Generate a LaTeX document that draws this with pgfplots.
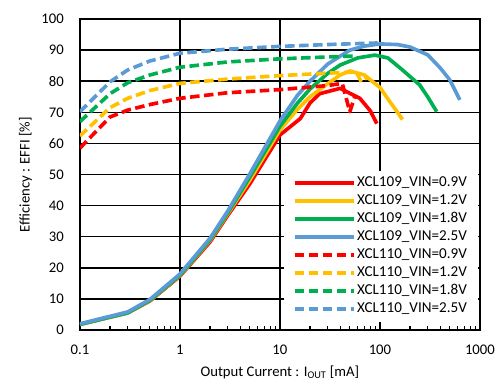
\documentclass[border=0pt]{standalone}
\usepackage{fontspec}
\setmainfont{Carlito}
\usepackage{pgfplots}
\pgfplotsset{compat=1.18}
\definecolor{cred}{HTML}{FF0000}
\definecolor{cyel}{HTML}{FFC000}
\definecolor{cgrn}{HTML}{00B050}
\definecolor{cblu}{HTML}{5B9BD5}
\begin{document}
\begin{tikzpicture}
\useasboundingbox (-57.1bp,-39.3bp) rectangle (302.9bp,235.7bp);
\begin{axis}[
  at={(0,0)}, anchor=south west,
  scale only axis, width=285.7bp, height=222.1bp,
  xmode=log, xmin=0.1, xmax=1000, ymin=0, ymax=100,
  xtick={0.1,1,10,100,1000}, xticklabels={0.1,1,10,100,1000},
  ytick={0,10,...,100},
  xmajorgrids, ymajorgrids,
  grid style={black, line width=1.1bp},
  axis line style={black, line width=1.1bp},
  xtick pos=bottom, ytick pos=left,
  tick align=inside,
  major tick length=0pt, minor tick length=3bp,
  minor tick style={black, line width=0.8bp},
  ytick style={draw=none},
  /pgf/number format/assume math mode=true,
  tick label style={font=\fontsize{10.5bp}{12bp}\selectfont},
  yticklabel style={xshift=-8bp},
  xticklabel style={yshift=-7bp},
  label style={font=\fontsize{10.5bp}{12bp}\selectfont},
  xlabel={Output Current : I\textsubscript{OUT} [mA]},
  ylabel={Efficiency : EFFI [\%]},
  xlabel style={at={(rel axis cs:0.5,0)}, anchor=center, yshift=-30bp},
  legend image code/.code={\draw[#1] (0bp,0bp) -- (42bp,0bp);},
  legend cell align=left,
  legend style={at={(rel axis cs:0.995,0.026)}, anchor=south east, draw=none, fill=white,
    font=\fontsize{10.8bp}{12bp}\selectfont, row sep=1.2bp,
    nodes={inner sep=1.2pt, text height=7.3bp, text depth=2bp},
    inner xsep=6.5bp, inner ysep=3bp},
  every axis plot/.append style={line width=2.6bp, line join=round},
  dashed style/.style={dash pattern=on 6.8bp off 3.2bp},
]
% XCL109 solid
\addplot[cred] coordinates {(0.1,1.8) (0.3,5.5) (0.5,9.3) (1,17.3) (2,28.3) (3,36.8) (5,47) (10,62.7) (16,68) (20,73) (25,76) (40,77.7) (63,74.5) (80,70.5) (93,66.4)};
\addlegendentry{XCL109\_VIN=0.9V}
\addplot[cyel] coordinates {(0.1,1.8) (0.3,5.5) (0.5,9.4) (1,17.5) (2,28.8) (3,37.3) (5,48.2) (10,64.3) (15,71) (20,75) (30,79.2) (40,82) (50,83.3) (70,82) (100,78) (125,73.5) (150,70) (168,67.7)};
\addlegendentry{XCL109\_VIN=1.2V}
\addplot[cgrn] coordinates {(0.1,1.8) (0.3,5.5) (0.5,9.5) (1,17.6) (2,29) (3,37.6) (5,49.2) (10,65.5) (15,73) (20,77.5) (30,82.5) (40,85.2) (60,87.5) (89,88.4) (120,87.5) (160,84.2) (250,78.8) (300,75) (370,70.2)};
\addlegendentry{XCL109\_VIN=1.8V}
\addplot[cblu] coordinates {(0.1,2.0) (0.3,5.8) (0.5,9.8) (1,18.0) (2,29.5) (3,38.2) (5,50.2) (10,67.2) (15,75.5) (20,80) (30,85.5) (50,90) (70,91.3) (100,92) (150,91.8) (200,91) (300,88.5) (400,84.3) (500,80.4) (630,74)};
\addlegendentry{XCL109\_VIN=2.5V}
% XCL110 dashed
\addplot[cred, dashed style] coordinates {(0.1,58.5) (0.2,68.5) (0.3,70.7) (0.5,72.5) (1,74.5) (3,76.3) (10,77.3) (30,78.6) (42,79.3) (50,70.2) (56,75)};
\addlegendentry{XCL110\_VIN=0.9V}
\addplot[cyel, dashed style] coordinates {(0.1,62.4) (0.2,71.5) (0.3,74.5) (0.5,77) (1,79.3) (3,80.7) (10,81.8) (30,82.6) (58,83) (65,79.8) (76,81.5)};
\addlegendentry{XCL110\_VIN=1.2V}
\addplot[cgrn, dashed style] coordinates {(0.1,67) (0.2,76) (0.3,79.5) (0.5,82) (1,84.5) (3,86.2) (10,87.2) (30,87.8) (54,88.1)};
\addlegendentry{XCL110\_VIN=1.8V}
\addplot[cblu, dashed style] coordinates {(0.1,70.2) (0.2,79.8) (0.3,83.6) (0.5,86.5) (1,89) (3,90.3) (10,91.2) (30,91.8) (95,92.3)};
\addlegendentry{XCL110\_VIN=2.5V}
\end{axis}
\end{tikzpicture}
\end{document}
